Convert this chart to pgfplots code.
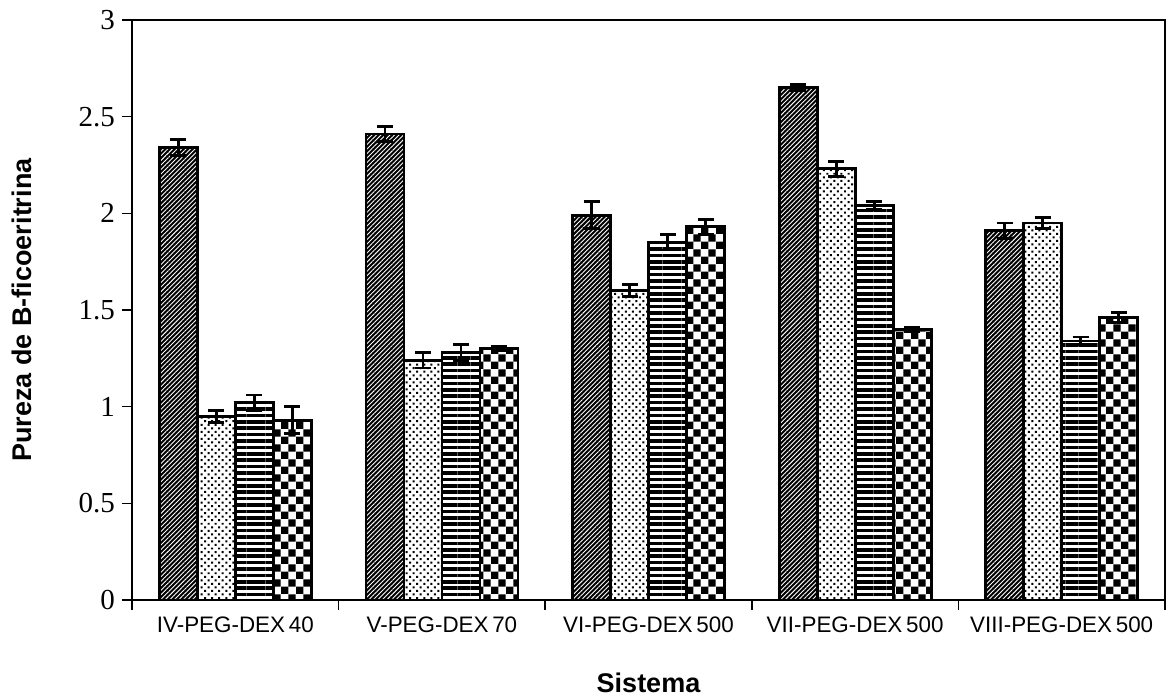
\documentclass[border=0pt]{standalone}
\usepackage{fontspec}
\setmainfont{Liberation Serif}
\newfontfamily\arial{Liberation Sans}
\usepackage{pgfplots}
\pgfplotsset{compat=1.18}
\usetikzlibrary{patterns,patterns.meta}

% coarse checkerboard for the fourth series
\tikzdeclarepattern{
  name=bigchecker, type=uncolored,
  bounding box={(0,0) and (7.4bp,7.4bp)},
  tile size={(7.4bp,7.4bp)},
  code={\fill (0,0) rectangle (3.7bp,3.7bp);
        \fill (3.7bp,3.7bp) rectangle (7.4bp,7.4bp);}
}

\begin{document}
\begin{tikzpicture}
\useasboundingbox (-66bp,-48.5bp) rectangle (518.5bp,300bp);
\begin{axis}[
  scale only axis,
  width=516.5bp, height=290bp,
  ybar=0pt, bar width=19bp,
  xmin=-0.5, xmax=4.5,
  ymin=0, ymax=3,
  ytick={0,0.5,...,3},
  xtick={-0.5,0.5,...,4.5},
  x tick label as interval,
  xticklabels={IV-PEG-DEX\,40, V-PEG-DEX\,70, VI-PEG-DEX\,500, VII-PEG-DEX\,500, VIII-PEG-DEX\,500},
  xtick pos=bottom, ytick pos=left,
  tick align=outside,
  major tick length=5bp,
  tick style={black, line width=0.8bp},
  axis line style={line width=1.1bp},
  /pgf/number format/assume math mode=true,
  yticklabel style={font=\fontsize{14.5bp}{16bp}\selectfont},
  xticklabel style={font=\arial\fontsize{11.2bp}{13bp}\selectfont},
  xlabel={\arial\bfseries Sistema},
  ylabel={\arial\bfseries Pureza de B-ficoeritrina},
  label style={font=\fontsize{13.5bp}{16bp}\selectfont},
  xlabel style={at={(axis description cs:0.5,-0.143)}, anchor=center},
  ylabel style={at={(axis description cs:-0.1065,0.5)}, anchor=center},
  every axis plot/.append style={draw=black, line width=1.4bp},
  error bars/y dir=both,
  error bars/y explicit,
  error bars/error bar style={line width=1.4bp, black},
  error bars/error mark options={line width=1.4bp, black, mark size=4bp, rotate=90},
]
% series 1: diagonal hatch
\addplot[fill=black, postaction={pattern={Lines[angle=45,distance=1.6bp,line width=0.45bp]}, pattern color=white}]
  coordinates {(0,2.34) +- (0,0.04) (1,2.41) +- (0,0.04) (2,1.99) +- (0,0.07) (3,2.65) +- (0,0.015) (4,1.91) +- (0,0.04)};
% series 2: dots
\addplot[fill=white, postaction={pattern={Dots[angle=45,distance=2.5bp,radius=0.7bp]}, pattern color=black}]
  coordinates {(0,0.95) +- (0,0.03) (1,1.24) +- (0,0.04) (2,1.60) +- (0,0.03) (3,2.23) +- (0,0.04) (4,1.95) +- (0,0.03)};
% series 3: horizontal lines
\addplot[fill=white, postaction={pattern={Lines[angle=0,distance=3.2bp,line width=1.8bp]}, pattern color=black}]
  coordinates {(0,1.02) +- (0,0.04) (1,1.28) +- (0,0.04) (2,1.85) +- (0,0.04) (3,2.04) +- (0,0.02) (4,1.34) +- (0,0.02)};
% series 4: checkerboard
\addplot[fill=white, postaction={pattern=bigchecker, pattern color=black}]
  coordinates {(0,0.93) +- (0,0.07) (1,1.30) +- (0,0.01) (2,1.93) +- (0,0.04) (3,1.40) +- (0,0.01) (4,1.46) +- (0,0.025)};
\end{axis}
\end{tikzpicture}
\end{document}
